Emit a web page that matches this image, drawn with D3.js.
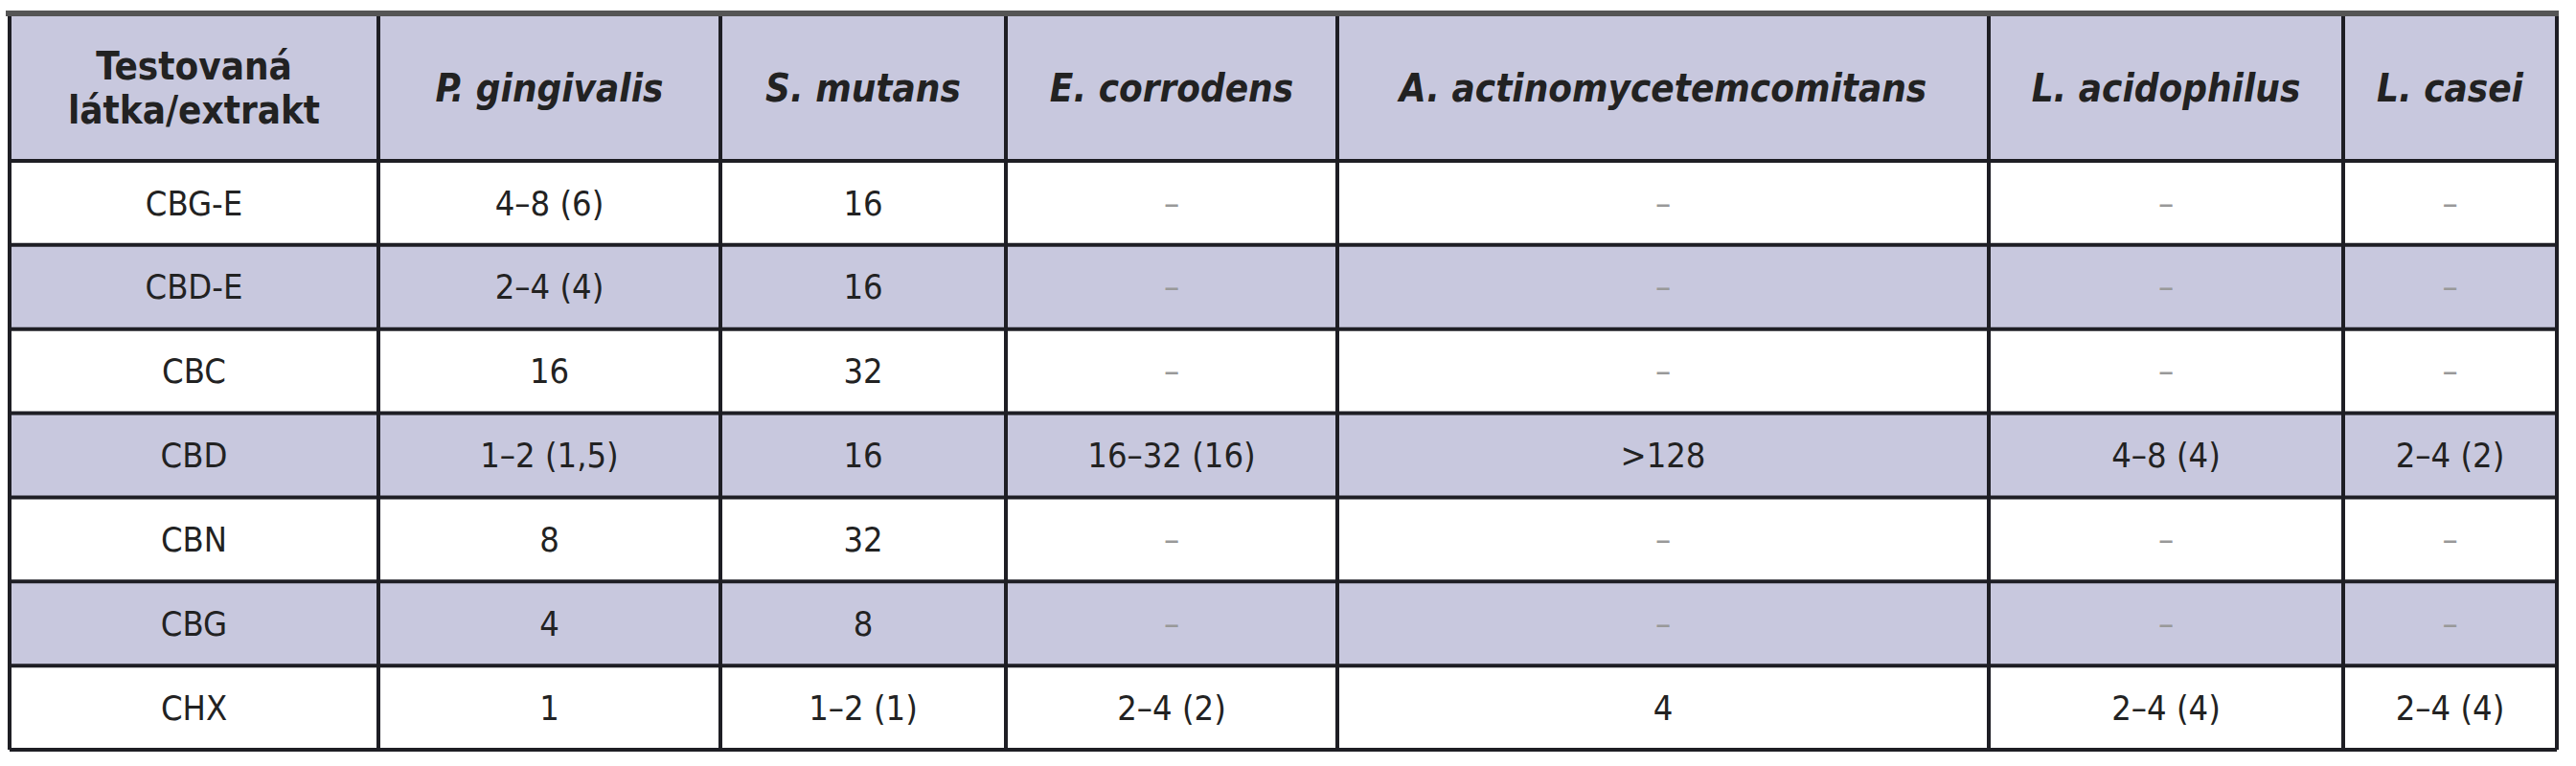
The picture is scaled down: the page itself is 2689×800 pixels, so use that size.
<!DOCTYPE html><html><head><meta charset="utf-8"><script src="https://cdn.jsdelivr.net/npm/d3@7"></script>
<style>body{margin:0;background:#fff}</style></head><body><svg id="c" width="2689" height="800"></svg>
<script>
const headers = [["Testovaná","látka/extrakt"],["P. gingivalis"],["S. mutans"],["E. corrodens"],["A. actinomycetemcomitans"],["L. acidophilus"],["L. casei"]];
const substances = ["CBG-E","CBD-E","CBC","CBD","CBN","CBG","CHX"];
const pGingivalis = ["4–8 (6)","2–4 (4)","16","1–2 (1,5)","8","4","1"];
const sMutans = ["16","16","32","16","32","8","1–2 (1)"];
const eCorrodens = ["–","–","–","16–32 (16)","–","–","2–4 (2)"];
const aActino = ["–","–","–",">128","–","–","4"];
const lAcido = ["–","–","–","4–8 (4)","–","–","2–4 (4)"];
const lCasei = ["–","–","–","2–4 (2)","–","–","2–4 (4)"];
(function(){
const cols = [substances,pGingivalis,sMutans,eCorrodens,aActino,lAcido,lCasei];
const edges = [10,395,752,1050,1396,2076,2446,2669];
const svg = d3.select("#c");
const font = "'Liberation Sans Narrow','DejaVu Sans Condensed','Roboto Condensed',sans-serif";
const tY=16, hb=168, rowH=(783-168)/7;
const y = d3.scaleLinear().domain([0,7]).range([hb,783]);
svg.append("rect").attr("x",edges[0]).attr("y",tY).attr("width",edges[7]-edges[0]).attr("height",hb-tY).attr("fill","#c8c8de");
substances.forEach((s,i)=>{ if(i%2==1) svg.append("rect").attr("x",edges[0]).attr("y",y(i)).attr("width",edges[7]-edges[0]).attr("height",rowH).attr("fill","#c8c8de");});
const g=svg.append("g").attr("stroke","#1e1e24").attr("stroke-width",4);
for(let i=0;i<=7;i++) g.append("line").attr("x1",edges[0]).attr("x2",edges[7]).attr("y1",y(i)).attr("y2",y(i));
edges.forEach(x=>g.append("line").attr("x1",x).attr("x2",x).attr("y1",tY).attr("y2",783));
svg.append("line").attr("x1",edges[0]-4).attr("x2",edges[7]+2).attr("y1",14).attr("y2",14).attr("stroke","#555").attr("stroke-width",6);
headers.forEach((h,c)=>{
  const cx=(edges[c]+edges[c+1])/2, cy=(tY+hb)/2;
  h.forEach((t,k)=>svg.append("text").attr("x",cx).attr("y",cy+(k-(h.length-1)/2)*46).attr("dy","0.35em")
    .attr("text-anchor","middle").attr("font-family",font).attr("font-size",40).attr("font-weight","bold")
    .attr("font-style",c>0?"italic":"normal").attr("fill","#222").text(t));
});
cols.forEach((col,c)=>{
  const cx=(edges[c]+edges[c+1])/2;
  col.forEach((v,i)=>svg.append("text").attr("x",cx).attr("y",y(i)+rowH/2).attr("dy","0.35em")
    .attr("text-anchor","middle").attr("font-family",font).attr("font-size",36)
    .attr("fill",v==="–"?"#999":"#222").text(v));
});
})();
</script></body></html>
